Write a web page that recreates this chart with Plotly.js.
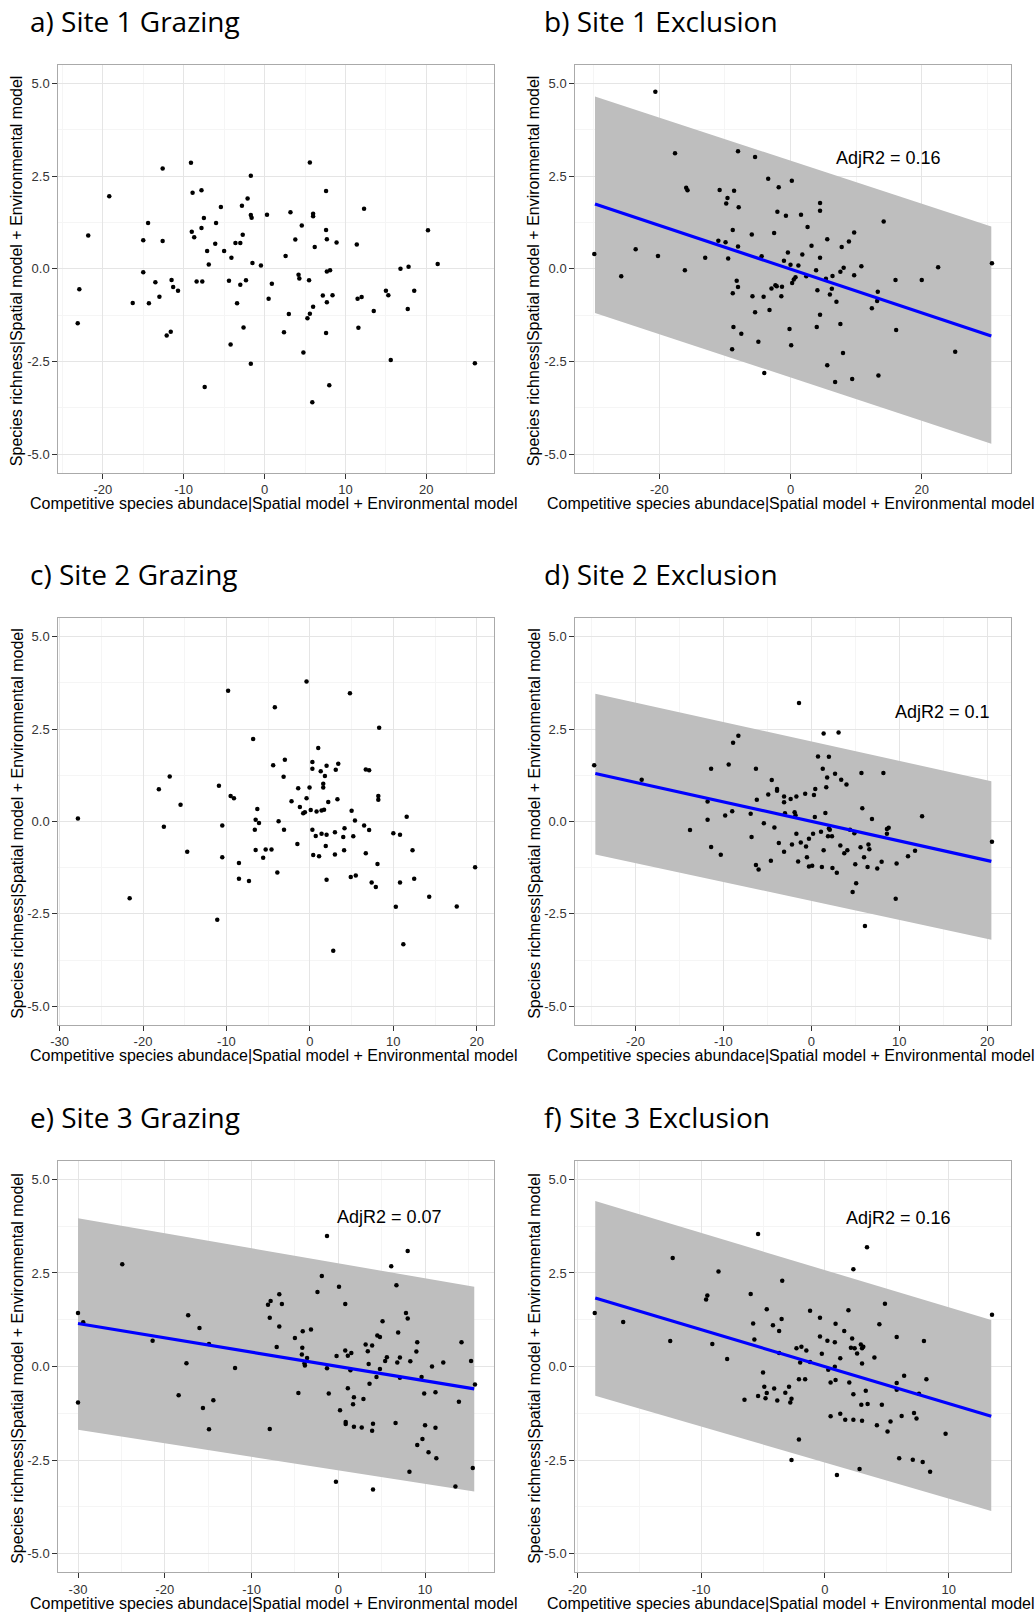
<!DOCTYPE html>
<html><head><meta charset="utf-8">
<script src="https://cdn.plot.ly/plotly-3.0.1.min.js"></script>
<style>html,body{margin:0;padding:0;background:#fff}#chart{width:1036px;height:1614px}</style>
</head><body><div id="chart"></div>
<script>
// ---------- data ----------
const a_x = [-23.1,-22.9,-21.8,-19.2,-16.3,-15.0,-15.0,-14.4,-14.3,-13.5,-13.0,-12.6,-12.6,-12.1,-11.6,-11.5,-11.3,-10.7,-9.1,-9.0,-8.9,-8.7,-8.4,-7.8,-7.8,-7.7,-7.5,-7.4,-7.1,-6.9,-6.0,-6.1,-5.4,-5.0,-4.4,-4.2,-4.1,-3.6,-3.4,-3.0,-3.0,-2.8,-2.7,-2.6,-2.3,-2.1,-1.7,-1.7,-1.6,-1.7,-1.5,-0.45,0.3,0.5,0.9,2.4,2.6,3.0,3.2,3.8,4.2,4.3,4.6,4.8,5.3,5.6,5.5,5.6,5.9,6.0,6.0,6.0,6.2,7.2,7.6,7.6,7.6,7.7,7.7,7.7,8.1,8.0,8.4,8.9,11.4,11.5,11.6,12.0,12.3,13.5,15.0,15.3,15.6,16.8,17.7,17.8,18.5,20.2,21.4,26.0];
const a_y = [-1.47,-0.55,0.90,1.96,-0.92,0.77,-0.09,1.24,-0.93,-0.36,-0.75,2.71,0.75,-1.80,-1.70,-0.30,-0.49,-0.59,2.86,1.00,2.05,0.85,-0.34,2.12,1.10,-0.34,1.37,-3.19,0.48,0.12,1.24,0.68,1.67,0.48,-0.32,-2.04,0.30,0.70,-0.93,-0.43,0.70,1.70,0.92,-1.58,-0.31,1.90,2.51,1.45,1.38,-2.56,0.16,0.09,1.46,-0.81,-0.40,-1.71,0.35,-1.22,1.53,0.79,-0.16,-0.26,1.17,-2.26,-1.33,2.87,-0.31,-1.21,-3.60,1.49,1.42,-1.02,0.59,-0.72,2.10,1.05,-1.73,-0.90,0.80,-0.07,-0.04,-3.14,-0.71,0.71,0.66,-0.81,-1.59,-0.76,1.62,-1.14,-0.59,-0.71,-2.46,0.0,-1.08,0.06,-0.59,1.04,0.13,-2.55];

const b_x = [-29.9,-25.8,-23.6,-20.6,-20.2,-17.6,-16.1,-15.9,-15.7,-13.0,-11.0,-10.8,-9.9,-9.8,-9.6,-9.5,-8.9,-8.8,-8.8,-8.7,-8.6,-8.2,-8.0,-8.0,-7.9,-8.0,-7.5,-5.9,-5.8,-5.4,-5.4,-4.9,-4.4,-4.1,-4.0,-3.4,-3.2,-2.9,-2.5,-2.3,-2.1,-2.0,-1.8,-1.4,-1.3,-1.0,-0.7,-0.4,-0.15,0.0,0.1,0.2,0.25,0.5,0.76,1.2,1.6,1.8,2.4,2.6,3.2,3.9,4.0,4.1,4.5,4.5,4.5,4.5,5.4,5.6,5.6,6.0,6.4,6.3,6.8,7.0,7.6,7.6,7.8,8.0,8.1,8.9,9.4,9.7,9.7,10.8,12.4,13.2,13.3,13.4,14.2,16.0,16.1,20.0,22.5,25.1,30.7];
const b_y = [0.40,-0.20,0.53,4.78,0.35,3.12,-0.04,2.19,2.12,0.30,0.76,2.13,0.72,1.76,1.91,0.28,-2.17,-0.66,1.05,-1.57,2.11,-0.32,3.17,-0.49,1.66,0.60,-1.75,0.93,-0.74,3.02,-1.17,-1.97,0.34,-0.75,-2.81,2.43,-1.11,-0.53,0.97,-0.44,-0.47,1.54,2.20,-0.74,-0.48,0.22,1.43,0.44,-1.62,0.11,-2.06,2.38,-0.38,-0.29,-0.23,0.09,1.46,0.39,-0.20,1.13,0.62,-0.04,-1.57,-0.58,1.78,1.57,0.30,-1.24,-0.27,-2.60,0.80,-0.69,-0.19,-0.54,-3.05,-0.89,-1.49,-0.08,0.59,-2.27,0.03,0.74,-2.97,0.98,-0.17,0.07,-1.06,-0.87,-0.62,-2.88,1.28,-0.30,-1.65,-0.30,0.04,-2.24,0.15];
const b_fitX = [-29.8, 30.6];
const b_fitY = [1.75, -1.81];
const b_upper = [4.65, 1.14];
const b_lower = [-1.19, -4.72];

const c_x = [-27.8,-21.6,-18.1,-17.5,-16.8,-15.5,-14.7,-11.1,-10.9,-10.5,-10.5,-9.8,-9.5,-9.1,-8.5,-8.5,-7.3,-6.8,-6.6,-6.5,-6.5,-6.3,-6.1,-5.6,-5.3,-4.6,-4.4,-4.2,-3.9,-3.75,-3.15,-3.1,-3.0,-2.2,-1.5,-1.4,-1.2,-0.8,-0.6,-0.4,-0.4,-0.04,0.1,0.3,0.3,0.3,0.4,0.7,0.8,1.0,1.1,1.3,1.4,1.4,1.6,1.6,1.7,1.8,1.9,2.0,2.0,2.0,2.2,3.0,3.0,2.8,3.1,3.3,3.4,4.0,4.15,4.1,4.8,4.9,5.0,5.2,5.4,5.5,6.5,6.7,6.7,7.1,7.1,7.4,7.9,8.1,8.2,8.2,8.3,10.0,10.3,10.8,10.8,11.2,11.6,12.3,12.5,14.3,17.6,19.8];
const c_y = [0.08,-2.08,0.87,-0.14,1.22,0.45,-0.82,-2.66,0.97,-0.11,-0.97,3.54,0.69,0.63,-1.12,-1.55,-1.61,2.23,-0.22,0.05,-0.77,0.34,-0.04,-0.98,-0.76,-0.76,1.52,3.09,-1.38,0.01,1.21,-0.22,1.67,0.55,-0.61,0.90,0.39,0.22,0.25,3.79,0.63,0.92,0.31,1.61,1.43,-0.22,-0.91,-0.39,0.27,1.99,-0.94,1.36,0.30,-0.33,0.92,1.02,0.32,1.23,-0.66,1.51,-0.36,-1.58,0.53,-0.29,-0.89,-3.50,1.40,0.60,1.56,-0.42,-0.18,-0.78,3.47,-1.50,0.29,-0.40,0.03,-1.46,-0.11,-0.86,1.41,-0.23,1.39,-1.65,-1.77,-1.15,0.69,0.59,2.54,-0.32,-2.31,-0.36,-1.65,-3.32,0.13,-0.78,-1.55,-2.04,-2.30,-1.24];

const d_x = [-24.7,-19.3,-13.8,-11.8,-11.8,-11.4,-11.4,-10.3,-9.8,-9.4,-9.0,-8.9,-8.3,-6.9,-6.8,-6.3,-6.3,-6.2,-6.0,-5.4,-4.9,-4.6,-4.5,-4.2,-3.9,-3.9,-3.7,-3.1,-3.1,-3.1,-3.0,-2.35,-2.2,-1.9,-1.8,-1.7,-1.7,-1.5,-1.4,-1.2,-0.7,-0.6,-0.5,-0.27,-0.27,0.1,0.2,0.3,0.4,0.45,0.76,1.1,1.2,1.3,1.4,1.4,1.6,1.7,1.8,1.9,2.0,2.0,2.1,2.35,2.4,2.7,2.9,3.1,3.3,3.4,3.75,4.0,4.1,4.4,4.7,4.9,5.0,5.1,5.6,5.7,5.8,6.0,6.1,6.4,6.5,6.6,6.9,7.5,8.0,8.2,8.6,8.6,8.8,9.6,9.7,11.0,11.8,12.6,20.55];
const d_y = [1.52,1.13,-0.23,0.54,0.05,1.43,-0.69,-0.90,0.16,1.54,0.28,2.13,2.32,0.21,-0.42,1.43,-1.18,0.59,-1.30,-0.05,0.73,-1.06,1.12,-0.16,0.88,0.83,-0.58,0.68,0.52,-0.82,0.22,0.61,-0.62,0.25,0.17,0.68,-0.33,-1.08,3.21,-0.57,0.75,-0.68,-0.97,-0.47,-1.22,-1.20,-0.33,0.72,0.12,0.88,1.76,-0.28,-1.23,1.43,2.38,-0.78,0.23,0.93,1.19,-0.40,1.75,-0.19,-0.22,-0.40,-1.26,1.29,-1.39,2.41,-0.65,1.13,-0.86,1.0,-0.78,-0.22,-1.91,-0.32,-1.16,-1.67,-0.70,1.31,0.36,-0.97,-2.83,-1.23,-0.62,-0.75,0.07,-1.27,-1.09,1.31,-0.33,-0.20,-0.17,-2.09,-1.14,-0.94,-0.79,0.14,-0.55];
const d_fitX = [-24.57, 20.48];
const d_fitY = [1.30, -1.08];
const d_upper = [3.46, 1.09];
const d_lower = [-0.89, -3.20];

const e_x = [-30.0,-30.0,-29.4,-24.9,-21.4,-18.4,-17.5,-17.3,-16.0,-15.6,-14.9,-14.9,-14.4,-11.9,-8.1,-7.9,-7.9,-7.8,-7.1,-6.8,-6.8,-6.5,-5.0,-4.6,-4.2,-4.15,-4.1,-3.9,-3.85,-3.6,-3.15,-2.4,-1.9,-1.3,-1.3,-1.1,-0.27,-0.2,0.08,0.2,0.8,0.8,0.85,0.85,1.1,1.1,1.4,1.5,1.8,1.7,1.8,2.7,2.9,3.15,3.4,3.5,3.6,3.9,4.0,3.9,4.0,4.4,4.5,4.8,4.8,5.1,5.4,5.6,6.1,6.6,6.7,6.8,6.9,7.1,7.1,7.8,8.0,8.0,8.2,8.3,9.0,9.1,9.1,9.6,9.7,9.9,10.0,10.4,10.8,11.2,11.2,11.3,12.1,13.5,13.9,14.2,15.3,15.5,15.75];
const e_y = [1.43,-0.96,1.18,2.73,0.69,-0.77,0.09,1.37,1.03,-1.11,-1.68,0.60,-0.90,-0.04,1.65,1.30,-1.67,1.75,0.52,1.07,1.93,1.67,0.76,-0.71,0.32,0.50,0.94,0.09,0.03,0.23,0.99,1.99,2.42,3.49,-0.05,-0.72,-3.08,0.28,2.13,-1.17,1.67,0.43,-1.48,-1.54,0.29,-0.58,-0.10,0.36,-0.82,-1.01,-1.61,-1.63,-0.87,0.59,0.41,0.07,-0.46,0.56,-1.53,-1.72,-3.29,-0.28,0.83,0.79,-0.07,1.21,0.15,0.25,2.68,-1.51,2.17,0.11,0.91,-0.30,0.24,1.43,1.28,3.09,-2.81,0.14,0.40,-2.10,0.65,-0.28,-1.94,-0.72,-1.57,-2.29,0.0,-0.69,-1.64,-2.45,0.11,-3.21,-0.94,0.65,0.15,-2.71,-0.48];
const e_fitX = [-30.0, 15.67];
const e_fitY = [1.15, -0.60];
const e_upper = [3.96, 2.13];
const e_lower = [-1.69, -3.34];

const f_x = [-18.6,-16.3,-12.5,-12.3,-9.6,-9.5,-9.1,-8.6,-7.9,-6.5,-6.0,-5.8,-5.7,-5.4,-5.4,-5.0,-4.9,-4.8,-4.7,-4.7,-4.2,-4.1,-3.85,-3.7,-3.7,-3.5,-3.45,-3.2,-2.9,-2.8,-2.7,-2.7,-2.3,-2.1,-2.1,-2.0,-1.9,-1.6,-1.5,-1.2,-1.2,-0.4,-0.4,-0.25,0.2,0.27,0.46,0.46,0.8,0.8,0.86,0.86,0.97,1.24,1.24,1.56,1.64,1.9,1.97,2.1,2.2,2.3,2.3,2.3,2.4,2.6,2.8,2.9,2.94,3.0,3.0,3.0,3.1,3.3,3.4,3.45,4.0,4.2,4.4,4.6,4.85,5.06,5.3,5.8,5.8,5.8,6.0,6.2,6.4,7.2,7.4,7.1,7.6,7.9,8.0,8.2,8.5,9.75,13.5];
const f_y = [1.43,1.19,0.68,2.90,1.79,1.90,0.60,2.54,0.20,-0.89,1.94,1.15,0.72,-0.79,3.54,-0.16,-0.54,-0.85,-0.71,1.53,1.10,-0.59,-0.91,0.36,0.95,1.27,2.29,-0.70,-0.54,-0.96,-0.86,-2.50,0.49,-1.95,-0.34,0.11,0.53,-0.34,0.43,1.49,0.12,0.80,1.30,0.34,0.69,-0.09,-0.43,-1.33,-0.01,0.65,-0.36,1.14,-2.90,0.22,-1.26,0.95,-1.42,1.50,-0.43,0.50,0.75,2.60,-0.74,-1.42,0.49,0.35,-2.74,0.59,-1.02,0.49,-1.45,0.08,0.53,-0.65,3.19,-1.00,0.24,-1.57,1.13,-1.02,1.68,-1.74,-1.47,0.79,-0.44,-0.62,-2.45,-1.32,-0.25,-1.24,-1.39,-2.49,-0.73,-2.55,0.68,-0.34,-2.81,-1.80,1.38];
const f_fitX = [-18.56, 13.44];
const f_fitY = [1.83, -1.33];
const f_upper = [4.42, 1.24];
const f_lower = [-0.78, -3.86];

// ---------- text ----------
const panelTitles = ['a) Site 1 Grazing','b) Site 1 Exclusion','c) Site 2 Grazing','d) Site 2 Exclusion','e) Site 3 Grazing','f) Site 3 Exclusion'];
const adjLabels = {b:'AdjR2 = 0.16', d:'AdjR2 = 0.1', e:'AdjR2 = 0.07', f:'AdjR2 = 0.16'};
const xTitle = 'Competitive species abundace|Spatial model + Environmental model';
const yTitle = 'Species richness|Spatial model + Environmental model';

// ---------- ticks ----------
const yTickVals = [-5, -2.5, 0, 2.5, 5];
const yTickText = ['-5.0', '-2.5', '0.0', '2.5', '5.0'];
const yMinorVals = [-3.75, -1.25, 1.25, 3.75];
const xTicks = {
  a: {vals:[-20,-10,0,10,20], text:['-20','-10','0','10','20'], minor:[-25,-15,-5,5,15,25]},
  b: {vals:[-20,0,20], text:['-20','0','20'], minor:[-30,-10,10,30]},
  c: {vals:[-30,-20,-10,0,10,20], text:['-30','-20','-10','0','10','20'], minor:[-25,-15,-5,5,15]},
  d: {vals:[-20,-10,0,10,20], text:['-20','-10','0','10','20'], minor:[-25,-15,-5,5,15]},
  e: {vals:[-30,-20,-10,0,10], text:['-30','-20','-10','0','10'], minor:[-25,-15,-5,5,15]},
  f: {vals:[-20,-10,0,10], text:['-20','-10','0','10'], minor:[-15,-5,5,15]}
};

// ---------- layout geometry (pixels) ----------
const W = 1036, H = 1614;
const colX = [[58.3, 494.3], [575.3, 1011.3]];
const rowY = [[65, 472.7], [618.3, 1024.7], [1160.7, 1572.3]];

const panels = [
  {k:'a', col:0, row:0, x:a_x, y:a_y, xr:[-25.5, 28.4]},
  {k:'b', col:1, row:0, x:b_x, y:b_y, xr:[-32.8, 33.65], fx:b_fitX, fy:b_fitY, up:b_upper, lo:b_lower, lab:[14.9, 2.98]},
  {k:'c', col:0, row:1, x:c_x, y:c_y, xr:[-30.15, 22.1]},
  {k:'d', col:1, row:1, x:d_x, y:d_y, xr:[-26.85, 22.75], fx:d_fitX, fy:d_fitY, up:d_upper, lo:d_lower, lab:[14.9, 2.96]},
  {k:'e', col:0, row:2, x:e_x, y:e_y, xr:[-32.27, 17.98], fx:e_fitX, fy:e_fitY, up:e_upper, lo:e_lower, lab:[5.95, 4.0]},
  {k:'f', col:1, row:2, x:f_x, y:f_y, xr:[-20.17, 15.06], fx:f_fitX, fy:f_fitY, up:f_upper, lo:f_lower, lab:[5.98, 3.97]}
];

const tickFont = {family:'Liberation Sans, Arial, sans-serif', size:13, color:'#333333'};
const titleFont = {family:'Liberation Sans, Arial, sans-serif', size:16, color:'#000000'};
const headFont = {family:'Open Sans, Noto Sans, sans-serif', size:28, color:'#000000'};

const traces = [];
const layout = {
  width: W, height: H,
  margin: {l:0, r:0, t:0, b:0},
  paper_bgcolor: '#ffffff',
  plot_bgcolor: '#ffffff',
  showlegend: false,
  annotations: []
};

panels.forEach((p, i) => {
  const n = i + 1;
  const xa = n === 1 ? 'xaxis' : 'xaxis' + n;
  const ya = n === 1 ? 'yaxis' : 'yaxis' + n;
  const xr = n === 1 ? 'x' : 'x' + n;
  const yr = n === 1 ? 'y' : 'y' + n;
  const cx = colX[p.col], ry = rowY[p.row];
  const t = xTicks[p.k];

  layout[xa] = {
    domain: [cx[0] / W, cx[1] / W], anchor: yr, range: p.xr,
    tickmode: 'array', tickvals: t.vals, ticktext: t.text,
    ticks: 'outside', ticklen: 5, tickwidth: 1, tickcolor: '#333333',
    tickfont: tickFont,
    showgrid: true, gridcolor: '#e5e5e5', gridwidth: 1,
    minor: {tickmode: 'array', tickvals: t.minor, showgrid: true, gridcolor: '#f5f5f5', gridwidth: 1, ticklen: 0},
    zeroline: false, showline: true, mirror: true, linecolor: '#aaaaaa', linewidth: 1,
    fixedrange: true
  };
  layout[ya] = {
    domain: [1 - ry[1] / H, 1 - ry[0] / H], anchor: xr, range: [-5.5, 5.5],
    tickmode: 'array', tickvals: yTickVals, ticktext: yTickText,
    ticks: 'outside', ticklen: 5, tickwidth: 1, tickcolor: '#333333',
    tickfont: tickFont,
    showgrid: true, gridcolor: '#e5e5e5', gridwidth: 1,
    minor: {tickmode: 'array', tickvals: yMinorVals, showgrid: true, gridcolor: '#f5f5f5', gridwidth: 1, ticklen: 0},
    zeroline: false, showline: true, mirror: true, linecolor: '#aaaaaa', linewidth: 1,
    fixedrange: true
  };

  if (p.fx) {
    traces.push({
      type: 'scatter', mode: 'lines', xaxis: xr, yaxis: yr,
      x: [p.fx[0], p.fx[1], p.fx[1], p.fx[0]],
      y: [p.up[0], p.up[1], p.lo[1], p.lo[0]],
      fill: 'toself', fillcolor: '#bebebe', line: {width: 0, color: 'rgba(0,0,0,0)'},
      hoverinfo: 'skip'
    });
  }
  traces.push({
    type: 'scatter', mode: 'markers', xaxis: xr, yaxis: yr,
    x: p.x, y: p.y,
    marker: {size: 4.5, color: '#000000'}
  });
  if (p.fx) {
    traces.push({
      type: 'scatter', mode: 'lines', xaxis: xr, yaxis: yr,
      x: p.fx, y: p.fy, line: {color: '#0000ff', width: 3.2}
    });
    layout.annotations.push({
      xref: xr, yref: yr, x: p.lab[0], y: p.lab[1], text: adjLabels[p.k],
      showarrow: false, xanchor: 'center', yanchor: 'middle',
      font: {family:'Liberation Sans, Arial, sans-serif', size:18, color:'#000000'}
    });
  }

  // panel heading
  layout.annotations.push({
    xref: 'paper', yref: 'paper',
    x: (p.col === 0 ? 28 : 542) / W, y: 1 - (ry[0] - 44) / H,
    text: panelTitles[i], showarrow: false, xanchor: 'left', yanchor: 'middle',
    font: headFont
  });
  // x axis title
  layout.annotations.push({
    xref: 'paper', yref: 'paper',
    x: ((cx[0] + cx[1]) / 2 - 2) / W, y: 1 - (ry[1] + 31) / H,
    text: xTitle, showarrow: false, xanchor: 'center', yanchor: 'middle',
    font: titleFont
  });
  // y axis title
  layout.annotations.push({
    xref: 'paper', yref: 'paper',
    x: (cx[0] - 41) / W, y: 1 - ((ry[0] + ry[1]) / 2 + 2) / H,
    text: yTitle, showarrow: false, textangle: -90, xanchor: 'center', yanchor: 'middle',
    font: titleFont
  });
});

Plotly.newPlot('chart', traces, layout, {staticPlot: true, displayModeBar: false});
</script>
</body></html>
